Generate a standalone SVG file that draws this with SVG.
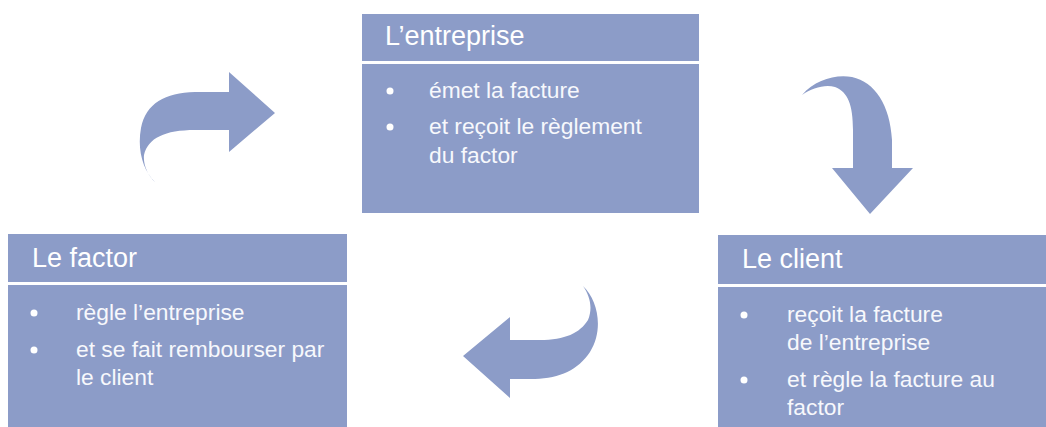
<svg xmlns="http://www.w3.org/2000/svg" width="1046" height="427" viewBox="0 0 1046 427">
<style>
.box{fill:#8C9CC8}
.arrow{fill:#8C9CC8}
.title{font-family:"Liberation Sans",Arial,sans-serif;font-size:27px;fill:#ffffff}
.item{font-family:"Liberation Sans",Arial,sans-serif;font-size:22.8px;fill:#f7f8fc}
.dot{fill:#ffffff}
</style>
<rect width="1046" height="427" fill="#ffffff"/>
<g id="connectors">
<path class="arrow" d="M155,182 C143,170 137,150 141,128 C146,103 165,93 195,92 L229,92 L229,72 L275,113 L229,152 L229,130 L195,130 C165,130 148,138 144,155 C143,165 148,176 155,182 Z"/>
<path class="arrow" d="M802,95 C815,80 835,74 852,77 C875,82 890,105 892,140 L892,168 L913,168 L870,214 L832,168 L853,168 L853,130 C853,105 848,92 835,87 C825,84 812,88 802,95 Z"/>
<path class="arrow" d="M583,286 C598,300 604,330 590,352 C578,370 560,378 535,379 L510,379 L510,398 L463,356 L510,317 L510,340 L540,340 C565,340 580,333 588,320 C593,308 590,296 583,286 Z"/>
</g>
<g id="entreprise">
<rect class="box" x="362" y="14" width="337" height="47"/>
<rect class="box" x="362" y="64" width="337" height="149"/>
<text class="title" x="385" y="45">L’entreprise</text>
<circle class="dot" cx="390" cy="91" r="3.5"/>
<text class="item" x="429" y="98">émet la facture</text>
<circle class="dot" cx="390" cy="127" r="3.5"/>
<text class="item" x="429" y="134">et reçoit le règlement</text>
<text class="item" x="429" y="163">du factor</text>
</g>
<g id="factor">
<rect class="box" x="8" y="234" width="339" height="48"/>
<rect class="box" x="8" y="285" width="339" height="142"/>
<text class="title" x="32" y="267">Le factor</text>
<circle class="dot" cx="34" cy="313" r="3.5"/>
<text class="item" x="76" y="320">règle l’entreprise</text>
<circle class="dot" cx="34" cy="350" r="3.5"/>
<text class="item" x="76" y="357">et se fait rembourser par</text>
<text class="item" x="76" y="385">le client</text>
</g>
<g id="client">
<rect class="box" x="718" y="235" width="328" height="49"/>
<rect class="box" x="718" y="287" width="328" height="140"/>
<text class="title" x="742" y="268">Le client</text>
<circle class="dot" cx="744" cy="315" r="3.5"/>
<text class="item" x="787" y="322">reçoit la facture</text>
<text class="item" x="787" y="350">de l’entreprise</text>
<circle class="dot" cx="744" cy="380" r="3.5"/>
<text class="item" x="787" y="387">et règle la facture au</text>
<text class="item" x="787" y="415">factor</text>
</g>
</svg>
